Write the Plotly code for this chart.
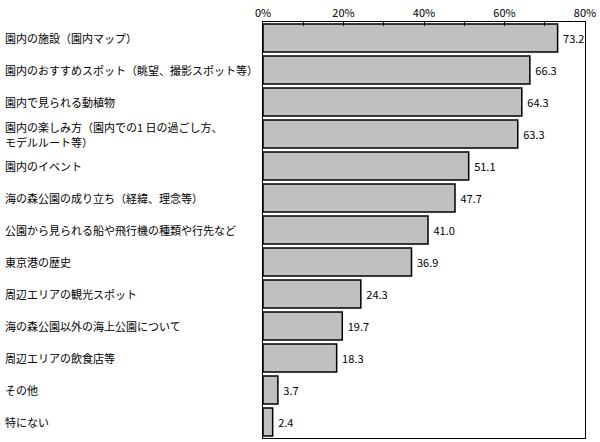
import plotly.graph_objects as go

categories = [
    "園内の施設（園内マップ）",
    "園内のおすすめスポット（眺望、撮影スポット等）",
    "園内で見られる動植物",
    "園内の楽しみ方（園内での1 日の過ごし方、<br>モデルルート等）",
    "園内のイベント",
    "海の森公園の成り立ち（経緯、理念等）",
    "公園から見られる船や飛行機の種類や行先など",
    "東京港の歴史",
    "周辺エリアの観光スポット",
    "海の森公園以外の海上公園について",
    "周辺エリアの飲食店等",
    "その他",
    "特にない",
]
values = [73.2, 66.3, 64.3, 63.3, 51.1, 47.7, 41.0, 36.9, 24.3, 19.7, 18.3, 3.7, 2.4]
tick_vals = [0, 20, 40, 60, 80]
tick_text = ["0%", "20%", "40%", "60%", "80%"]

font = "Noto Sans CJK JP, sans-serif"

fig = go.Figure()
fig.add_trace(go.Bar(
    y=categories, x=values, orientation="h",
    marker=dict(color="#c0c0c0", line=dict(color="#000000", width=1.5)),
    texttemplate=" %{x:.1f}", textposition="outside",
    textfont=dict(family=font, size=11, color="#000"),
    cliponaxis=False, showlegend=False, hoverinfo="skip",
))

line_h = 15
for c in categories:
    lines = c.split("<br>")
    n = len(lines)
    for i, ln in enumerate(lines):
        fig.add_annotation(x=0, xref="paper", xshift=-259, y=c, yref="y",
                           yshift=((n - 1) / 2 - i) * line_h, borderpad=0,
                           text=ln, showarrow=False, xanchor="left", align="left",
                           font=dict(family=font, size=11, color="#000"))

fig.update_layout(
    width=600, height=442,
    margin=dict(l=263, r=15, t=22, b=4),
    paper_bgcolor="white", plot_bgcolor="white",
    bargap=0.12,
    font=dict(family=font, size=11, color="#000"),
    xaxis=dict(range=[0, 80], side="top", tickvals=tick_vals, ticktext=tick_text,
               ticks="inside", ticklen=4, tickcolor="#000", showgrid=False,
               showline=True, linecolor="#000", linewidth=1, mirror=True,
               minor=dict(dtick=10, ticks="inside", ticklen=4, tickcolor="#000"),
               zeroline=False, tickfont=dict(size=11)),
    yaxis=dict(autorange="reversed", showticklabels=False, showgrid=False,
               showline=True, linecolor="#000", linewidth=1, mirror=True,
               ticks="", zeroline=False),
)

fig.write_html("out.html", config={"displayModeBar": False},
               post_script="document.body.style.margin='0';document.body.style.padding='0';")
